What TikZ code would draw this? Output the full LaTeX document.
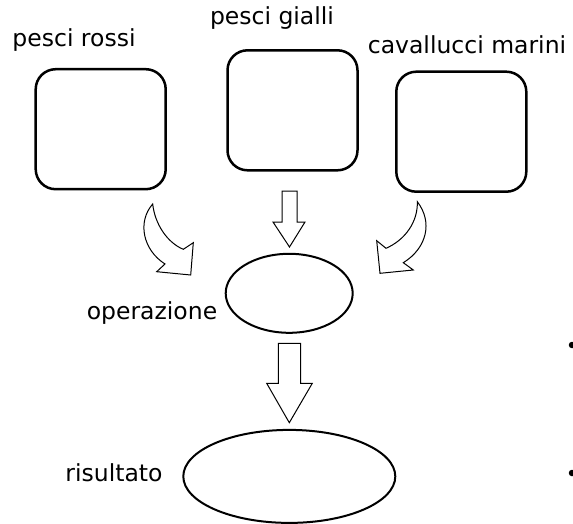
\documentclass[tikz,border=0pt]{standalone}
\usepackage{fontspec}
\setmainfont{DejaVu Sans}
\usetikzlibrary{shapes.geometric}
\begin{document}
\begin{tikzpicture}[x=1pt,y=-1pt,
  box/.style={draw,line width=2.5pt,rounded corners=20pt,inner sep=0pt},
  oval/.style={draw,line width=2pt,ellipse,inner sep=0pt},
  lab/.style={font=\fontsize{23.5}{28}\selectfont,inner sep=0pt,anchor=base},
  barrow/.style={draw,line width=1pt,fill=white,line join=miter},
  dot/.style={fill=black,circle,inner sep=0pt,minimum size=6.5pt}]
\useasboundingbox (0,0) rectangle (573,524);
% boxes
\node[box,minimum width=130pt,minimum height=120pt] (b1) at (100.7,129.2) {};
\node[box,minimum width=130pt,minimum height=120pt] (b2) at (292.5,110.3) {};
\node[box,minimum width=130pt,minimum height=120pt] (b3) at (461.3,131.7) {};
% labels
\node[lab] (t1) at (74,46.7) {pesci rossi};
\node[lab] (t2) at (272,25) {pesci gialli};
\node[lab] (t3) at (467,53.3) {cavallucci marini};
% ellipses
\node[oval,minimum width=127pt,minimum height=79pt] (e1) at (289.2,293.3) {};
\node[oval,minimum width=212pt,minimum height=93pt] (e2) at (289.3,476.4) {};
\node[lab] (t4) at (152,319) {operazione};
\node[lab] (t5) at (114,481.7) {risultato};
% curved block arrows
\draw[barrow] (152.7,204) .. controls (137,222) and (143,250) .. (165,264)
  -- (156.7,271.7) -- (190.7,275) -- (193.3,242.7) -- (183.3,249.3)
  .. controls (168,243) and (155,225) .. cycle;
\draw[barrow] (417.3,201.7) .. controls (433,222) and (427,248) .. (403.3,262.7)
  -- (413.3,270) -- (380,273.3) -- (376.7,240.7) -- (386,248.3)
  .. controls (405,240) and (418,222) .. cycle;
% straight block arrows
\draw[barrow] (282,191) -- (297,191) -- (297,222) -- (305,222) -- (289.5,247)
  -- (273,222) -- (282,222) -- cycle;
\draw[barrow] (278.3,343.3) -- (300.7,343.3) -- (300.7,383.3) -- (312.3,383.3) -- (289.3,422.7)
  -- (266.7,383.3) -- (278.3,383.3) -- cycle;
% dots
\node[dot] (d1) at (572,345) {};
\node[dot] (d2) at (572,473) {};
\end{tikzpicture}
\end{document}
